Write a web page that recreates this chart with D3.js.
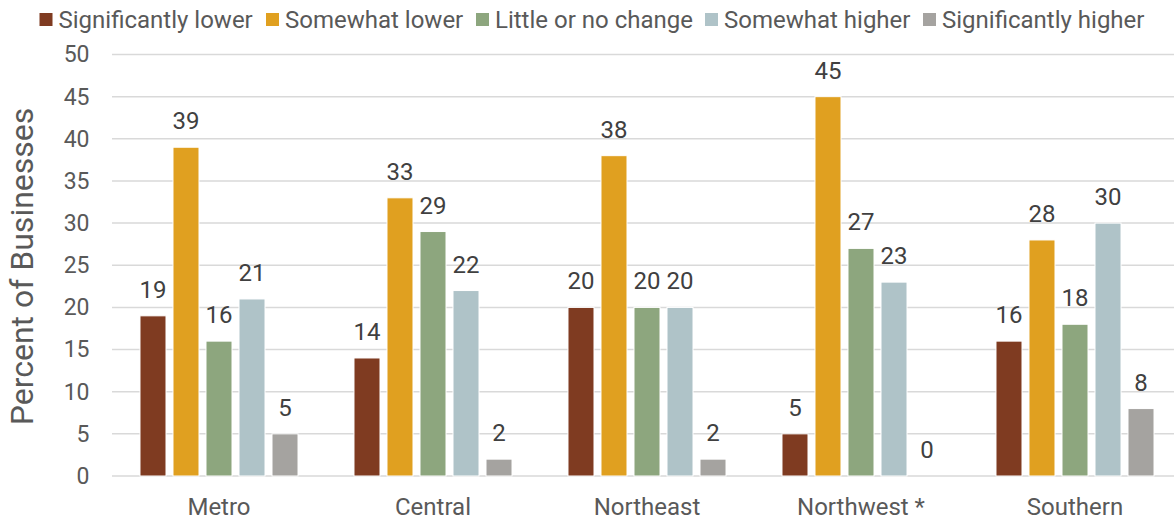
<!DOCTYPE html>
<html>
<head>
<meta charset="utf-8">
<script src="https://cdn.jsdelivr.net/npm/d3@7"></script>
<style>
  html, body { margin: 0; padding: 0; background: #fff; }
  svg { display: block; font-family: Roboto, "Noto Sans", sans-serif; }
</style>
</head>
<body>
<svg id="chart" width="1174" height="520"></svg>
<script>
// Regions and response categories
const regions = ["Metro", "Central", "Northeast", "Northwest *", "Southern"];
const seriesNames = ["Significantly lower", "Somewhat lower", "Little or no change", "Somewhat higher", "Significantly higher"];
const seriesColors = ["#7F3B21", "#E0A020", "#8DA67E", "#AFC3C8", "#A5A3A0"];

// Percent of businesses per series, in region order
const significantlyLower  = [19, 14, 20, 5, 16];
const somewhatLower       = [39, 33, 38, 45, 28];
const littleOrNoChange    = [16, 29, 20, 27, 18];
const somewhatHigher      = [21, 22, 20, 23, 30];
const significantlyHigher = [5, 2, 2, 0, 8];
const seriesValues = [significantlyLower, somewhatLower, littleOrNoChange, somewhatHigher, significantlyHigher];

const yTicks = [0, 5, 10, 15, 20, 25, 30, 35, 40, 45, 50];

const svg = d3.select("#chart");
const plot = { left: 112, right: 1182, top: 54.5, bottom: 476 };

const x0 = d3.scaleBand().domain(regions).range([plot.left, plot.right]).padding(0);
const x1 = d3.scaleBand().domain(seriesNames).range([0, x0.bandwidth()])
  .paddingInner(0.212).paddingOuter(0.848);
const y = d3.scaleLinear().domain([0, 50]).range([plot.bottom, plot.top]);

// Horizontal gridlines
svg.append("g")
  .selectAll("line")
  .data(yTicks)
  .join("line")
  .attr("x1", plot.left).attr("x2", plot.right)
  .attr("y1", d => y(d)).attr("y2", d => y(d))
  .attr("stroke", "#D9D9D9").attr("stroke-width", 1.5);

// Y axis tick labels
const yAxis = d3.axisLeft(y).tickValues(yTicks).tickSize(0).tickPadding(0);
const yg = svg.append("g").attr("transform", `translate(89.5,0)`).call(yAxis);
yg.select(".domain").remove();
yg.selectAll("text")
  .attr("font-size", 23).attr("fill", "#595959")
  .attr("font-family", "Roboto, sans-serif");

// X axis category labels
const xAxis = d3.axisBottom(x0).tickSize(0).tickPadding(0);
const xg = svg.append("g").attr("transform", `translate(0,498)`).call(xAxis);
xg.select(".domain").remove();
xg.selectAll("text")
  .attr("font-size", 24).attr("fill", "#595959")
  .attr("font-family", "Roboto, sans-serif");

// Y axis title
svg.append("text")
  .attr("transform", `translate(33,${266.5}) rotate(-90)`)
  .attr("text-anchor", "middle")
  .attr("font-size", 32).attr("fill", "#595959")
  .text("Percent of Businesses");

// Flatten into bar records
const bars = [];
regions.forEach((r, i) => {
  seriesNames.forEach((s, j) => {
    bars.push({ region: r, series: s, value: seriesValues[j][i], color: seriesColors[j] });
  });
});

const barG = svg.append("g");
barG.selectAll("rect")
  .data(bars)
  .join("rect")
  .attr("x", d => x0(d.region) + x1(d.series))
  .attr("width", x1.bandwidth())
  .attr("y", d => y(d.value))
  .attr("height", d => y(0) - y(d.value))
  .attr("fill", d => d.color)
  .attr("stroke", "#fff").attr("stroke-width", 1);

// Value labels above bars
barG.selectAll("text")
  .data(bars)
  .join("text")
  .attr("x", d => x0(d.region) + x1(d.series) + x1.bandwidth() / 2)
  .attr("y", d => y(d.value) - 18)
  .attr("text-anchor", "middle")
  .attr("font-size", 24).attr("fill", "#404040")
  .text(d => d.value);

// Legend
const legendX = [39.5, 266, 476, 705, 923];
const lg = svg.append("g");
seriesNames.forEach((s, j) => {
  const g = lg.append("g").attr("transform", `translate(${legendX[j]},0)`);
  g.append("rect").attr("x", 0).attr("y", 13).attr("width", 13).attr("height", 13)
    .attr("fill", seriesColors[j]);
  g.append("text").attr("x", 19).attr("y", 27.5)
    .attr("font-size", 24).attr("fill", "#595959")
    .text(s);
});
</script>
</body>
</html>
